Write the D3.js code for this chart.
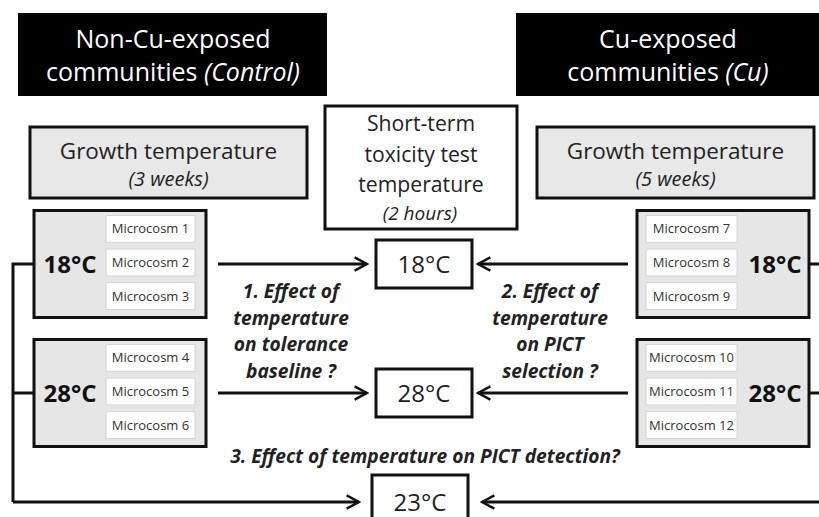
<!DOCTYPE html>
<html lang="en">
<head>
<meta charset="UTF-8">
<title>Temperature and PICT design</title>
<script src="https://d3js.org/d3.v7.min.js"></script>
<style>
  body, html { margin: 0; padding: 0; overflow: hidden; background: #fff; }
  svg { font-family: "Open Sans", Lato, sans-serif; }
  .box { stroke: #111; stroke-width: 3; }
  .micro { fill: #fff; stroke: #d4d4d4; stroke-width: 1; }
  .micro-label { font-size: 13px; fill: #333; text-anchor: middle; }
  .q { font-size: 19.2px; font-weight: bold; font-style: italic; fill: #222; text-anchor: middle; }
  .link { fill: none; stroke: #111; stroke-width: 3; }
</style>
</head>
<body>
<svg id="chart" width="819" height="517"></svg>
<script>
  // ---- data ----
  const sides = ["Control", "Cu"];
  const headerLine1 = ["Non-Cu-exposed", "Cu-exposed"];
  const headerLine2 = ["communities ", "communities "];
  const headerItalic = ["(Control)", "(Cu)"];
  const growthDuration = ["(3 weeks)", "(5 weeks)"];
  const growthTemps = ["18°C", "28°C"];
  const microcosms = [
    [["Microcosm 1", "Microcosm 2", "Microcosm 3"], ["Microcosm 4", "Microcosm 5", "Microcosm 6"]],
    [["Microcosm 7", "Microcosm 8", "Microcosm 9"], ["Microcosm 10", "Microcosm 11", "Microcosm 12"]]
  ];
  const testTemps = ["18°C", "28°C", "23°C"];
  const testTitle = ["Short-term", "toxicity test", "temperature"];
  const testDuration = "(2 hours)";
  const question1 = ["1. Effect of", "temperature", "on tolerance", "baseline ?"];
  const question2 = ["2. Effect of", "temperature", "on PICT", "selection ?"];
  const question3 = "3. Effect of temperature on PICT detection?";

  const svg = d3.select("#chart");

  // rows: each test temperature sits on its own horizontal line
  const rowY = d3.scaleOrdinal().domain(testTemps).range([264, 393, 502]);
  // sides: left / right columns
  const groupX = d3.scaleOrdinal().domain(sides).range([34, 637]);
  const groupW = 172, groupH = 107;

  const defs = svg.append("defs");
  defs.append("marker")
    .attr("id", "head")
    .attr("viewBox", "0 0 10 10")
    .attr("refX", 9).attr("refY", 5)
    .attr("markerWidth", 5.5).attr("markerHeight", 5.5)
    .attr("markerUnits", "strokeWidth")
    .attr("orient", "auto")
    .append("path")
    .attr("d", "M1.5,1 L9,5 L1.5,9")
    .attr("fill", "none").attr("stroke", "#111").attr("stroke-width", 1.5);

  // ---- header boxes ----
  const headX = d3.scaleOrdinal().domain(sides).range([18, 516]);
  const head = svg.selectAll(".head").data(sides).enter().append("g").attr("class", "head");
  head.append("rect")
    .attr("x", d => headX(d)).attr("y", 13)
    .attr("width", (d, i) => i === 0 ? 309 : 306).attr("height", 83)
    .attr("fill", "#000");
  head.append("text")
    .attr("x", (d, i) => headX(d) + (i === 0 ? 155 : 152)).attr("y", 48)
    .attr("text-anchor", "middle").attr("fill", "#fff").attr("font-size", 25)
    .text((d, i) => headerLine1[i]);
  const l2 = head.append("text")
    .attr("x", (d, i) => headX(d) + (i === 0 ? 155 : 152)).attr("y", 81)
    .attr("text-anchor", "middle").attr("fill", "#fff").attr("font-size", 25);
  l2.append("tspan").text((d, i) => headerLine2[i]);
  l2.append("tspan").attr("font-style", "italic").text((d, i) => headerItalic[i]);

  // ---- growth temperature boxes ----
  const growX = d3.scaleOrdinal().domain(sides).range([30, 537]);
  const grow = svg.selectAll(".grow").data(sides).enter().append("g").attr("class", "grow");
  grow.append("rect").attr("class", "box")
    .attr("x", d => growX(d)).attr("y", 127)
    .attr("width", 277).attr("height", 71)
    .attr("fill", "#e8e8e8");
  grow.append("text")
    .attr("x", d => growX(d) + 138.5).attr("y", 159)
    .attr("text-anchor", "middle").attr("font-size", 22.5).attr("fill", "#222")
    .text("Growth temperature");
  grow.append("text")
    .attr("x", d => growX(d) + 138.5).attr("y", 186)
    .attr("text-anchor", "middle").attr("font-size", 20).attr("font-style", "italic").attr("fill", "#222")
    .text((d, i) => growthDuration[i]);

  // ---- short-term test box ----
  svg.append("rect").attr("class", "box")
    .attr("x", 325).attr("y", 106).attr("width", 192).attr("height", 123)
    .attr("fill", "#fff");
  svg.selectAll(".tt").data(testTitle).enter().append("text")
    .attr("x", 421).attr("y", (d, i) => 131 + i * 30.5)
    .attr("text-anchor", "middle").attr("font-size", 21.2).attr("fill", "#222")
    .text(d => d);
  svg.append("text")
    .attr("x", 420).attr("y", 220)
    .attr("text-anchor", "middle").attr("font-size", 19).attr("font-style", "italic").attr("fill", "#222")
    .text(testDuration);

  // ---- connectors (drawn under the boxes) ----
  const links = svg.append("g");
  // left bracket
  links.append("path").attr("class", "link")
    .attr("d", `M34,${rowY("18°C")} H13 V${rowY("23°C")} M13,${rowY("28°C")} H34`);
  // right bracket (runs off the page edge)
  links.append("path").attr("class", "link")
    .attr("d", `M808,${rowY("18°C")} H822 V${rowY("23°C")} M822,${rowY("28°C")} H808`);
  // bottom arrows to 23 °C
  links.append("path").attr("class", "link")
    .attr("d", `M13,${rowY("23°C")} H359`).attr("marker-end", "url(#head)");
  links.append("path").attr("class", "link")
    .attr("d", `M822,${rowY("23°C")} H482`).attr("marker-end", "url(#head)");
  // arrows from growth groups to test boxes
  growthTemps.forEach(t => {
    links.append("path").attr("class", "link")
      .attr("d", `M218,${rowY(t)} H367`).attr("marker-end", "url(#head)");
    links.append("path").attr("class", "link")
      .attr("d", `M628,${rowY(t)} H478`).attr("marker-end", "url(#head)");
  });

  // ---- growth groups with microcosms ----
  sides.forEach((side, si) => {
    growthTemps.forEach((t, ti) => {
      const x0 = groupX(side), y0 = rowY(t) - groupH / 2;
      const g = svg.append("g");
      g.append("rect").attr("class", "box")
        .attr("x", x0).attr("y", y0).attr("width", groupW).attr("height", groupH)
        .attr("fill", "#e6e6e6");
      const names = microcosms[si][ti];
      const my = d3.scaleBand().domain(names).range([y0 + 5, y0 + groupH - 8]).paddingInner(0.2);
      const mx = si === 0 ? x0 + 72 : x0 + 9;
      const mw = si === 0 ? 89 : 91;
      g.selectAll(".micro").data(names).enter().append("rect").attr("class", "micro")
        .attr("x", mx).attr("y", d => my(d)).attr("width", mw).attr("height", my.bandwidth());
      g.selectAll(".micro-label").data(names).enter().append("text").attr("class", "micro-label")
        .attr("x", mx + mw / 2).attr("y", d => my(d) + my.bandwidth() / 2 + 4.5)
        .text(d => d);
      g.append("text")
        .attr("x", si === 0 ? x0 + 36 : x0 + 138).attr("y", rowY(t) + 9)
        .attr("text-anchor", "middle").attr("font-size", 24).attr("font-weight", "bold").attr("fill", "#111")
        .text(t);
    });
  });

  // ---- test temperature boxes ----
  const tests = svg.selectAll(".test").data(testTemps).enter().append("g").attr("class", "test");
  tests.append("rect").attr("class", "box")
    .attr("x", d => d === "23°C" ? 372 : 376)
    .attr("y", d => d === "23°C" ? 475 : rowY(d) - 24).attr("width", 96).attr("height", d => d === "23°C" ? 60 : 48)
    .attr("fill", "#fff");
  tests.append("text")
    .attr("x", d => d === "23°C" ? 420 : 424).attr("y", d => rowY(d) + 9)
    .attr("text-anchor", "middle").attr("font-size", 24).attr("fill", "#222")
    .text(d => d);

  // ---- questions ----
  svg.selectAll(".q1").data(question1).enter().append("text").attr("class", "q")
    .attr("x", 291).attr("y", (d, i) => 298 + i * 26.7).text(d => d);
  svg.selectAll(".q2").data(question2).enter().append("text").attr("class", "q")
    .attr("x", 550).attr("y", (d, i) => 298 + i * 26.7).text(d => d);
  svg.append("text").attr("class", "q")
    .attr("x", 425).attr("y", 463).attr("font-size", 18.8).text(question3);
</script>
</body>
</html>
